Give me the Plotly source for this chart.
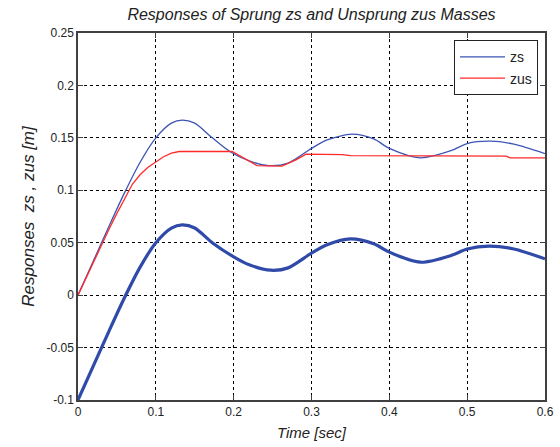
import plotly.graph_objects as go

# ---- data ----
t_zs = [0, 0.02, 0.04, 0.06, 0.08, 0.10, 0.12, 0.134, 0.15, 0.1725, 0.195, 0.22, 0.245,
        0.27, 0.30, 0.32, 0.352, 0.38, 0.40, 0.44, 0.48, 0.50, 0.53, 0.56, 0.60]
zs = [0, 0.033, 0.066, 0.098, 0.127, 0.150, 0.164, 0.167, 0.164, 0.150, 0.137, 0.128, 0.1235,
      0.126, 0.140, 0.148, 0.1535, 0.149, 0.140, 0.131, 0.138, 0.1446, 0.1468, 0.144, 0.135]

t_zus = [0, 0.01, 0.02, 0.03, 0.04, 0.05, 0.06, 0.065, 0.07, 0.08, 0.09, 0.10, 0.11, 0.12,
         0.13, 0.198, 0.217, 0.23, 0.262, 0.28, 0.293, 0.30, 0.34, 0.35, 0.45, 0.55, 0.555, 0.60]
zus = [0, 0.016, 0.032, 0.048, 0.063, 0.078, 0.092, 0.099, 0.106, 0.115, 0.122, 0.127, 0.132,
       0.1355, 0.137, 0.137, 0.1286, 0.1235, 0.123, 0.129, 0.1345, 0.1345, 0.134, 0.133,
       0.1325, 0.1325, 0.131, 0.131]

t_rel = [0, 0.02, 0.04, 0.06, 0.08, 0.10, 0.12, 0.134, 0.15, 0.1725, 0.20, 0.22, 0.2475,
         0.27, 0.30, 0.32, 0.35, 0.38, 0.40, 0.44, 0.48, 0.50, 0.528, 0.56, 0.60]
z_rel = [-0.1, -0.067, -0.034, -0.002, 0.027, 0.050, 0.064, 0.067, 0.064, 0.050, 0.0366, 0.029,
         0.0238, 0.026, 0.040, 0.048, 0.0537, 0.049, 0.041, 0.0314, 0.038, 0.044, 0.0467,
         0.044, 0.0346]

x_ticks = [0, 0.1, 0.2, 0.3, 0.4, 0.5, 0.6]
x_labels = ["0", "0.1", "0.2", "0.3", "0.4", "0.5", "0.6"]
y_ticks = [-0.1, -0.05, 0, 0.05, 0.1, 0.15, 0.2, 0.25]
y_labels = ["-0.1", "-0.05", "0", "0.05", "0.1", "0.15", "0.2", "0.25"]

FONT = "Liberation Sans, Arial, sans-serif"

fig = go.Figure()
fig.add_trace(go.Scatter(x=t_zs, y=zs, mode="lines", name="zs",
                         line=dict(color="#3c55b4", width=1.3, shape="spline", smoothing=0.8)))
fig.add_trace(go.Scatter(x=t_zus, y=zus, mode="lines", name="zus",
                         line=dict(color="#ff2a2a", width=1.3)))
fig.add_trace(go.Scatter(x=t_rel, y=z_rel, mode="lines", showlegend=False,
                         line=dict(color="#2f4aa8", width=3.2, shape="spline", smoothing=0.8)))

axis_common = dict(
    showline=True, linecolor="#404040", linewidth=1.5, mirror="ticks",
    ticks="inside", ticklen=5, tickcolor="#404040",
    showgrid=True, gridcolor="#000000", gridwidth=1, griddash="3px,3px",
    zeroline=False, tickfont=dict(family=FONT, size=12, color="#222222"),
)

fig.update_xaxes(range=[0, 0.6], tickvals=x_ticks, ticktext=x_labels,
                 title=dict(text="<i>Time [sec]</i>", font=dict(family=FONT, size=15, color="#222222"),
                            standoff=9),
                 **axis_common)
fig.update_yaxes(range=[-0.1, 0.25], tickvals=y_ticks, ticktext=y_labels,
                 title=dict(text="<i>Responses  zs , zus [m]</i>", font=dict(family=FONT, size=17, color="#222222"),
                            standoff=8),
                 **axis_common)

fig.update_layout(
    width=560, height=447,
    margin=dict(l=78, r=15, t=33, b=47, autoexpand=False),
    paper_bgcolor="white", plot_bgcolor="white",
    title=dict(text="<i>Responses of Sprung zs and Unsprung zus Masses</i>",
               font=dict(family=FONT, size=16, color="#222222"),
               x=(78 + 545) / 2 / 560, xanchor="center", y=1 - 14 / 447, yanchor="middle"),
    legend=dict(x=0.985, y=0.98, xanchor="right", yanchor="top",
                bgcolor="white", bordercolor="#222222", borderwidth=1,
                font=dict(family=FONT, size=14, color="#222222"),
                tracegroupgap=0, itemwidth=45),
    showlegend=True,
)

fig.write_html("out.html", config={"displayModeBar": False},
               post_script="document.body.style.margin='0';document.body.style.padding='0';")
